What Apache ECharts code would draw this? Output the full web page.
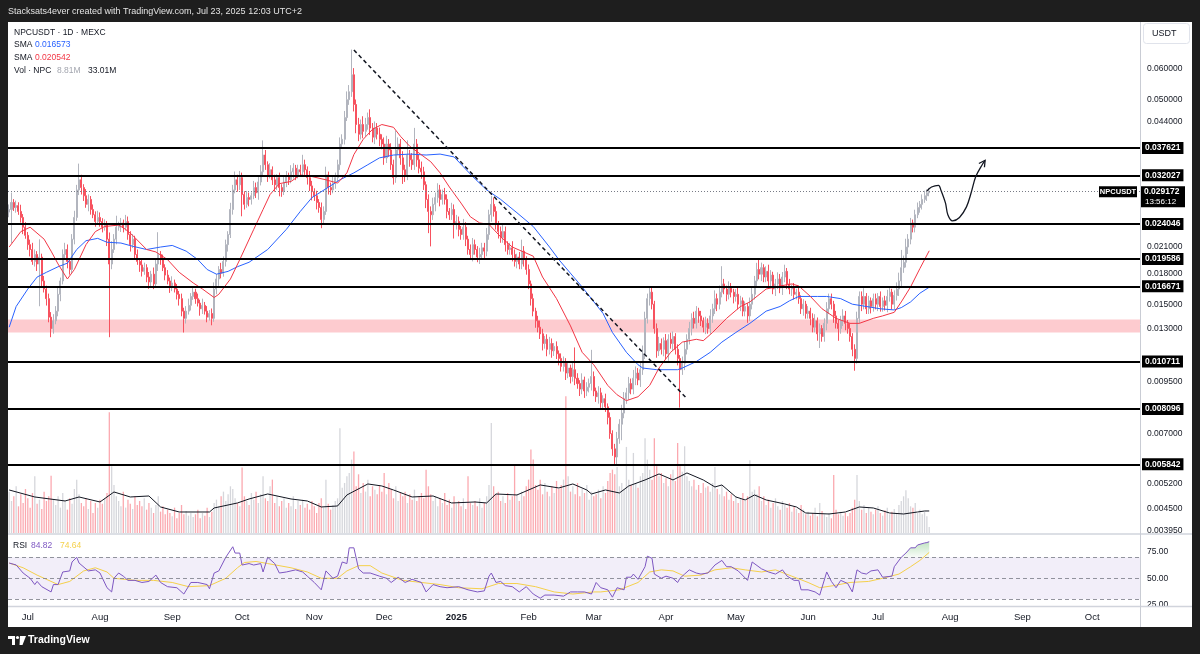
<!DOCTYPE html>
<html>
<head>
<meta charset="utf-8">
<script src="https://cdn.jsdelivr.net/npm/echarts@6/dist/echarts.min.js"></script>
<style>
  html, body { margin: 0; padding: 0; background: #1e1e1e; }
  #chart { width: 1200px; height: 654px; }
</style>
</head>
<body>
<div id="chart"></div>
<script>
(() => {
  // daily candles, first one on Jun 23 2024; axis runs on into Oct 2025
  var startDate = '2024-06-23';
  var dayCount = 486;
  var monthNames = ['Jan', 'Feb', 'Mar', 'Apr', 'May', 'Jun', 'Jul', 'Aug', 'Sep', 'Oct', 'Nov', 'Dec'];

  var firstOpen = 0.0258;
  var closes = [
    0.0262,0.0273,0.0265,0.0268,0.0259,0.0250,0.0236,0.0225,0.0213,0.0207,0.0193,0.0201,0.0190,0.0198,0.0172,0.0164,0.0155,0.0139,0.0130,0.0136,
    0.0144,0.0159,0.0172,0.0201,0.0207,0.0193,0.0184,0.0220,0.0250,0.0294,0.0312,0.0298,0.0284,0.0270,0.0278,0.0262,0.0254,0.0244,0.0250,0.0244,
    0.0236,0.0240,0.0220,0.0190,0.0207,0.0220,0.0236,0.0239,0.0242,0.0236,0.0244,0.0226,0.0213,0.0220,0.0201,0.0193,0.0189,0.0182,0.0186,0.0176,
    0.0171,0.0179,0.0169,0.0190,0.0201,0.0195,0.0186,0.0178,0.0172,0.0167,0.0170,0.0164,0.0159,0.0155,0.0144,0.0138,0.0144,0.0149,0.0157,0.0161,
    0.0155,0.0151,0.0146,0.0149,0.0144,0.0139,0.0142,0.0138,0.0164,0.0174,0.0184,0.0180,0.0193,0.0213,0.0226,0.0262,0.0294,0.0312,0.0303,0.0316,
    0.0286,0.0270,0.0281,0.0278,0.0284,0.0298,0.0289,0.0308,0.0327,0.0361,0.0341,0.0321,0.0331,0.0312,0.0303,0.0316,0.0298,0.0291,0.0308,0.0319,
    0.0312,0.0327,0.0334,0.0321,0.0331,0.0327,0.0341,0.0331,0.0316,0.0301,0.0291,0.0284,0.0273,0.0265,0.0247,0.0259,0.0321,0.0298,0.0294,0.0305,
    0.0316,0.0341,0.0385,0.0396,0.0450,0.0500,0.0524,0.0579,0.0486,0.0432,0.0408,0.0432,0.0415,0.0432,0.0450,0.0423,0.0401,0.0423,0.0408,0.0396,
    0.0385,0.0355,0.0385,0.0372,0.0341,0.0316,0.0372,0.0385,0.0355,0.0331,0.0321,0.0361,0.0351,0.0341,0.0385,0.0351,0.0334,0.0327,0.0303,0.0278,
    0.0259,0.0254,0.0270,0.0281,0.0294,0.0278,0.0286,0.0278,0.0259,0.0254,0.0262,0.0240,0.0244,0.0233,0.0226,0.0236,0.0220,0.0207,0.0201,0.0213,
    0.0207,0.0198,0.0201,0.0209,0.0205,0.0226,0.0254,0.0270,0.0259,0.0240,0.0230,0.0222,0.0230,0.0213,0.0207,0.0209,0.0201,0.0193,0.0198,0.0190,
    0.0205,0.0195,0.0184,0.0169,0.0155,0.0144,0.0136,0.0131,0.0126,0.0119,0.0122,0.0115,0.0119,0.0114,0.0117,0.0112,0.0109,0.0104,0.0106,0.0100,
    0.0103,0.0098,0.0102,0.0097,0.0094,0.0091,0.0096,0.0090,0.0092,0.0094,0.0098,0.0090,0.0087,0.0089,0.0084,0.0086,0.0082,0.0077,0.0070,0.0064,
    0.0061,0.0068,0.0074,0.0079,0.0086,0.0089,0.0094,0.0091,0.0097,0.0100,0.0096,0.0102,0.0112,0.0138,0.0155,0.0161,0.0150,0.0130,0.0114,0.0119,
    0.0115,0.0121,0.0112,0.0122,0.0119,0.0124,0.0115,0.0109,0.0102,0.0106,0.0115,0.0122,0.0130,0.0138,0.0134,0.0144,0.0140,0.0136,0.0131,0.0134,
    0.0130,0.0140,0.0146,0.0155,0.0150,0.0161,0.0169,0.0164,0.0159,0.0165,0.0161,0.0157,0.0159,0.0150,0.0153,0.0144,0.0148,0.0140,0.0150,0.0159,
    0.0172,0.0184,0.0179,0.0186,0.0176,0.0182,0.0172,0.0178,0.0164,0.0169,0.0174,0.0165,0.0176,0.0182,0.0169,0.0164,0.0165,0.0159,0.0161,0.0155,
    0.0146,0.0150,0.0142,0.0144,0.0138,0.0131,0.0136,0.0126,0.0130,0.0124,0.0134,0.0146,0.0155,0.0150,0.0140,0.0134,0.0130,0.0136,0.0140,0.0134,
    0.0130,0.0124,0.0115,0.0109,0.0138,0.0157,0.0150,0.0157,0.0146,0.0153,0.0148,0.0155,0.0150,0.0157,0.0148,0.0153,0.0149,0.0157,0.0161,0.0150,
    0.0158,0.0164,0.0172,0.0186,0.0192,0.0210,0.0220,0.0242,0.0236,0.0254,0.0265,0.0270,0.0278,0.0284,0.0289,0.029172
  ];
  // wick lengths, % beyond the body (upper / lower)
  var hiWick = [
    3,6,2,3,2,4,2,3,2,3,4,3,2,11,2,3,2,3,3,4, 3,4,2,3,4,3,2,3,4,3,10,3,2,4,3,2,3,2,4,3,
    2,3,2,4,5,3,7,2,3,2,4,3,2,3,2,3,2,4,3,2, 3,2,4,3,14,2,3,2,3,2,4,2,3,2,3,2,3,4,2,3,
    2,3,2,4,2,3,2,3,4,3,2,4,3,3,2,4,3,5,3,4, 3,2,4,3,2,4,3,3,4,9,3,2,4,2,3,2,3,2,4,3,
    2,4,3,2,3,3,6,3,2,4,3,2,3,2,3,3,5,2,3,4, 3,3,4,3,4,5,4,16,4,3,4,3,5,4,3,5,3,4,3,4,
    3,4,5,3,4,3,12,4,3,4,3,9,3,4,10,3,3,4,3,2, 3,3,4,3,4,3,3,4,3,2,4,3,4,3,2,5,3,2,3,4,
    3,2,4,3,3,4,3,5,4,3,2,3,4,3,2,3,4,3,2,3, 7,3,2,3,2,3,2,3,4,3,2,3,4,3,2,3,2,3,4,3,
    3,2,4,14,3,2,4,2,3,3,17,3,2,4,3,2,3,2,3,2, 3,4,3,5,4,3,4,3,5,4,3,4,5,4,3,3,3,2,3,4,
    3,2,4,3,4,3,2,3,2,4,5,3,4,3,4,3,2,3,2,4, 3,4,3,5,3,4,11,3,2,4,3,2,3,4,3,2,3,2,4,5,
    3,4,7,3,2,3,4,3,2,3,4,3,3,4,2,3,2,3,2,3, 2,3,2,3,2,3,4,2,3,2,3,4,3,3,2,3,2,3,4,3,
    2,3,2,3,4,3,3,5,2,3,2,3,3,2,3,2,3,4,3,2, 3,4,5,11,4,5,3,3,2,3,3,2,3,3,2,2
  ];
  var loWick = [
    3,18,2,3,2,3,4,2,3,4,2,3,4,22,3,2,4,3,5,3, 2,3,4,2,3,4,3,2,3,2,3,4,3,2,4,3,2,3,2,3,
    3,2,4,35,3,2,3,2,4,3,2,3,4,2,3,2,4,3,2,3, 4,3,3,2,4,3,2,3,2,4,3,2,3,4,3,8,3,2,3,2,
    3,2,4,3,2,3,2,4,2,3,4,3,2,3,4,2,3,2,4,3, 12,3,2,4,3,2,3,4,2,3,3,4,2,3,4,3,5,3,2,3,
    3,2,4,3,2,3,2,3,4,3,5,3,4,3,5,3,2,4,3,2, 3,2,3,2,3,2,3,3,4,5,4,3,4,3,3,4,3,4,3,4,
    3,4,3,4,3,4,3,3,4,8,4,3,4,3,3,4,3,4,3,5, 12,17,3,4,3,4,3,3,4,3,3,8,3,4,3,3,4,3,3,4,
    3,3,4,3,4,3,3,4,3,3,4,3,3,4,3,3,4,3,4,3, 3,4,3,3,4,3,4,3,3,4,3,4,3,4,3,3,4,3,3,4,
    3,4,3,4,3,4,3,4,3,3,4,3,3,4,3,4,3,4,3,4, 4,5,3,9,3,3,4,3,3,4,3,4,3,3,3,4,3,3,4,3,
    3,4,3,4,3,4,3,4,20,3,4,3,3,4,3,3,4,3,3,4, 3,3,4,3,4,3,3,3,4,3,3,4,3,3,4,3,3,4,3,3,
    3,3,3,4,3,3,4,3,3,4,3,3,4,3,3,3,4,3,3,3, 3,4,3,3,4,3,3,4,8,3,3,4,3,3,4,3,7,3,3,4,
    3,3,4,7,3,3,4,3,3,3,4,3,3,4,3,3,3,4,3,3, 3,3,4,3,3,3,4,3,3,3,2,3,3,2,3,2
  ];
  // volume, millions of NPC
  var volumes = [
    62,48,55,70,40,58,45,66,52,38,60,85,44,50,36,62,48,55,86,50, 42,55,38,60,48,35,52,44,66,80,58,45,40,52,36,48,30,45,38,50,
    44,52,60,181,100,72,55,48,40,62,38,50,44,36,55,42,48,40,52,35, 45,38,30,42,55,32,40,28,35,30,25,38,22,30,42,28,33,26,30,24,
    28,35,22,30,26,38,24,32,45,50,40,55,62,48,58,70,66,52,45,40, 98,55,48,42,60,50,62,45,58,85,52,48,70,80,45,55,40,48,52,38,
    45,40,55,36,48,42,50,38,44,35,48,40,30,45,52,38,80,44,35,42, 48,52,157,68,75,85,90,110,122,70,88,60,75,62,80,55,70,65,58,72,
    62,90,58,75,66,52,70,48,60,55,62,45,58,50,65,48,55,60,52,95, 70,58,48,55,40,52,45,60,42,50,38,55,44,48,40,52,36,85,45,42,
    48,40,52,38,45,55,72,165,70,58,62,48,55,45,60,50,55,102,58,48, 62,55,70,80,125,110,72,65,80,58,75,62,55,70,60,78,66,72,80,205,
    85,62,70,58,75,55,66,60,72,50,62,55,58,65,52,70,60,78,90,95, 88,99,70,75,66,129,80,72,120,75,68,85,90,142,110,95,80,142,100,85,
    90,75,82,70,88,95,78,135,100,92,130,85,78,70,80,65,72,60,75,68, 70,62,75,99,66,58,72,55,62,50,58,48,55,45,52,60,48,55,109,62,
    65,58,70,48,55,42,50,38,45,52,40,35,48,42,38,45,32,40,36,30, 42,35,28,32,26,30,38,25,45,33,28,24,30,22,87,35,28,32,26,30,
    25,30,38,50,87,48,35,42,30,38,32,28,35,40,30,26,34,38,28,32, 36,30,42,48,55,64,52,40,38,45,30,35,28,32,25,8.81
  ];
  // [day index, value] readings of the indicator lines
  var volMa = [[0,64.5],[11,54],[24,48],[30,54],[39,46.5],[45,61.5],[52,54],[60,55.5],[65,39],[73,31.5],[86,31.5],[88,37.5],[98,45],[103,51],[111,58.5],[121,51],[128,48],[134,39],[141,40.5],[145,57],[154,73.5],[160,70.5],[165,64.5],[173,54],[182,55.5],[190,45],[200,46.5],[205,45],[209,58.5],[218,57],[228,72],[236,67.5],[242,73.5],[248,64.5],[250,58.5],[256,64.5],[262,60],[266,70.5],[273,79.5],[279,88.5],[285,79.5],[291,90],[298,79.5],[303,69],[306,72],[312,54],[316,49.5],[320,57],[325,49.5],[333,43.5],[338,39],[342,30],[352,28.5],[359,31.5],[365,39],[371,37.5],[378,30],[384,28.5],[390,31.5],[393,33],[395,33.01]];
  var smaSlow = [[0,0.0131],[3,0.0148],[8,0.0164],[12,0.0176],[16,0.0181],[21,0.0187],[25,0.0191],[29,0.0207],[33,0.0218],[38,0.0221],[42,0.0216],[48,0.0215],[53,0.0211],[59,0.0207],[65,0.0210],[70,0.0212],[76,0.0205],[81,0.0195],[85,0.0184],[89,0.0179],[94,0.0182],[98,0.0187],[103,0.0192],[111,0.0207],[119,0.0233],[125,0.0259],[130,0.0281],[136,0.0296],[142,0.0312],[148,0.0325],[154,0.0341],[159,0.0355],[165,0.0361],[172,0.0363],[179,0.0361],[185,0.0363],[191,0.0357],[195,0.0337],[199,0.0318],[205,0.0294],[211,0.0278],[218,0.0257],[225,0.0237],[232,0.0210],[236,0.0195],[246,0.0166],[255,0.0142],[259,0.0127],[265,0.0113],[270,0.0105],[272,0.0103],[278,0.0102],[287,0.0102],[289,0.0103],[295,0.0107],[301,0.0113],[306,0.0120],[312,0.0127],[318,0.0134],[325,0.0144],[331,0.0148],[335,0.0153],[339,0.0157],[347,0.0157],[351,0.0157],[357,0.0155],[362,0.0150],[368,0.0148],[374,0.0146],[380,0.0145],[383,0.0147],[387,0.0152],[391,0.0160],[395,0.016573]];
  var smaFast = [[0,0.0210],[5,0.0230],[9,0.0236],[15,0.0220],[18,0.0205],[21,0.0190],[25,0.0174],[28,0.0184],[33,0.0213],[37,0.0230],[41,0.0237],[47,0.0239],[50,0.0233],[53,0.0225],[59,0.0207],[63,0.0204],[68,0.0195],[73,0.0181],[79,0.0170],[83,0.0164],[88,0.0156],[90,0.0159],[95,0.0174],[99,0.0195],[105,0.0233],[109,0.0262],[112,0.0286],[116,0.0305],[121,0.0309],[125,0.0321],[130,0.0318],[136,0.0312],[141,0.0306],[145,0.0325],[148,0.0362],[152,0.0396],[156,0.0420],[160,0.0432],[165,0.0425],[168,0.0403],[172,0.0380],[176,0.0365],[181,0.0347],[185,0.0325],[189,0.0299],[194,0.0272],[198,0.0251],[202,0.0242],[206,0.0240],[211,0.0223],[216,0.0210],[225,0.0199],[229,0.0176],[235,0.0155],[241,0.0132],[246,0.0113],[251,0.0105],[257,0.0093],[261,0.0088],[265,0.0085],[270,0.0087],[275,0.0093],[279,0.0103],[284,0.0113],[289,0.0120],[295,0.0122],[298,0.0121],[302,0.0127],[308,0.0138],[314,0.0148],[318,0.0152],[325,0.0164],[331,0.0167],[336,0.0169],[339,0.0167],[344,0.0157],[349,0.0146],[355,0.0138],[361,0.0134],[365,0.0134],[371,0.0138],[375,0.0140],[380,0.0143],[383,0.0152],[387,0.0166],[391,0.0185],[395,0.020542]];
  var rsi = [[0,64.5],[3,62.7],[6,55],[9,50],[11,44],[12,47],[14,42],[18,37],[19,44],[21,44],[23,56],[26,57],[27,65.5],[29,70],[30,64.5],[34,57],[37,58],[39,55],[42,41],[44,37],[45,50],[47,55],[49,52],[51,48],[54,48],[57,46],[60,47],[63,53],[65,46],[68,42],[72,41],[75,35],[78,46],[81,46],[85,44],[86,40],[88,55],[90,57],[93,70],[96,80],[97,74],[99,74],[100,62.6],[103,64],[105,62.6],[108,64],[109,56],[111,70],[114,64],[116,55],[119,56],[123,58],[126,56],[128,52],[131,46],[134,39],[136,57],[139,50],[141,52],[143,65.5],[145,64],[146,79],[148,79],[150,59],[152,55],[155,55],[159,52],[162,50],[164,46],[167,51],[170,46],[173,49],[177,46],[179,37],[182,44],[185,42],[188,41],[193,42],[197,39],[201,37],[204,38],[206,52],[207,55],[209,46],[211,47],[213,43],[216,42],[219,37],[222,42],[225,35],[228,31],[230,34],[234,34],[238,33],[241,37],[244,37],[247,37],[250,35],[252,46],[254,41],[257,39],[259,32],[261,41],[264,39],[265,51],[267,51],[268,54],[270,49],[273,61],[274,71],[276,69],[277,54],[280,50],[282,52],[285,50],[287,46],[288,50],[290,54],[292,58],[295,55],[297,54],[300,55],[303,62.6],[306,67],[308,61],[310,61],[313,57],[317,48],[319,65.5],[323,59],[326,56],[329,54],[332,58],[334,52],[337,48],[339,48],[340,39],[343,39],[346,37],[348,34],[351,56],[353,47],[355,41],[357,48],[360,45],[362,37],[364,58],[366,55],[368,54],[370,57],[373,58],[375,51],[379,52],[380,61],[383,70],[385,74],[387,79],[389,79],[390,81.7],[393,83.6],[394,84],[395,84.82]];
  var rsiMa = [[0,64.5],[6,60],[12,53],[21,44],[26,47],[32,57],[37,60],[42,56],[45,50],[54,48],[62,48],[70,46],[77,42],[86,43],[93,50],[98,60],[101,65],[106,66],[111,64],[121,60],[128,56],[134,50],[141,50],[145,57],[150,62],[155,62],[160,55],[169,48],[177,46],[185,44],[193,41],[203,40],[210,45],[218,45],[226,42],[234,37],[242,35],[251,37],[254,37],[262,39],[270,46],[275,56],[280,58],[285,57],[290,52],[297,53],[303,58],[310,60],[316,58],[323,56],[329,58],[336,52],[343,46],[348,41],[354,43],[361,46],[369,47],[375,50],[382,54],[387,61],[391,67],[395,74.64]];

  var levels = [0.037621, 0.032027, 0.024046, 0.019586, 0.016671, 0.010711, 0.008096, 0.005842];
  var priceTicks = [0.06, 0.05, 0.044, 0.021, 0.018, 0.015, 0.013, 0.0095, 0.007, 0.0052, 0.0045, 0.00395];
  var rsiTicks = [75, 50, 25];
  var rsiBands = [70, 50, 30];
  var zoneBand = [0.0127, 0.0137];
  var lastPrice = 0.029172;
  var trendLine = [[148, 0.0670], [291, 0.0086]];
  var arrowPath = [[394,0.0292],[396,0.0299],[399,0.0302],[400,0.0294],[402,0.0272],[403,0.0254],[405,0.0245],[408,0.0250],[411,0.0266],[413,0.0289],[415,0.0318],[418,0.0343],[419,0.0350]];

  var FONT = 'Liberation Sans';
  var INK = '#131722';
  var UP = '#b2b5be', DOWN = '#f7525f';

  var t0 = Date.parse(startDate);
  var dates = [];
  for (var k = 0; k < dayCount; k++) dates.push(new Date(t0 + k * 86400000).toISOString().slice(0, 10));

  var candles = [], volBars = [];
  closes.forEach(function (c, i) {
    var o = i ? closes[i - 1] : firstOpen;
    var top = Math.max(o, c), bot = Math.min(o, c);
    candles.push([o, c, bot * (1 - loWick[i] / 100), top * (1 + hiWick[i] / 100)]);
    volBars.push({ value: volumes[i], itemStyle: { color: c >= o ? 'rgba(178,181,190,0.55)' : 'rgba(247,82,95,0.5)' } });
  });

  function axisText(v, txt) {
    return { yAxis: v, lineStyle: { color: 'rgba(0,0,0,0)', width: 1 },
      label: { show: true, position: 'end', distance: 7, formatter: txt, color: INK, fontSize: 8.5, fontFamily: FONT } };
  }
  function monthLabel(v) {
    var m = +v.slice(5, 7);
    return m === 1 ? '{y|' + v.slice(0, 4) + '}' : monthNames[m - 1];
  }

  var xBase = { type: 'category', data: dates, boundaryGap: true, axisLine: { show: false }, axisTick: { show: false }, axisLabel: { show: false }, splitLine: { show: false } };

  var option = {
    animation: false,
    backgroundColor: '#1e1e1e',
    grid: [
      { left: 8, width: 1132, top: 22, height: 511 },
      { left: 8, width: 1132, top: 22, height: 511 },
      { left: 8, width: 1132, top: 535, height: 71 }
    ],
    xAxis: [
      Object.assign({}, xBase, { gridIndex: 0 }),
      Object.assign({}, xBase, { gridIndex: 1 }),
      Object.assign({}, xBase, { gridIndex: 2, axisLabel: {
        show: true, interval: function (i, v) { return v.slice(8) === '01'; }, formatter: monthLabel,
        color: INK, fontSize: 9.5, fontFamily: FONT, margin: 6,
        rich: { y: { fontWeight: 'bold', fontSize: 9.5, fontFamily: FONT, color: INK } } } })
    ],
    yAxis: [
      { type: 'log', gridIndex: 0, min: 0.0039, max: 0.079, position: 'right', show: false },
      { type: 'value', gridIndex: 1, min: 0, max: 766, show: false },
      { type: 'value', gridIndex: 2, min: 23.6, max: 91.2, show: false }
    ],
    series: [
      { type: 'bar', xAxisIndex: 1, yAxisIndex: 1, data: volBars, barWidth: '55%', silent: true, z: 1 },
      { type: 'line', xAxisIndex: 1, yAxisIndex: 1, data: volMa, showSymbol: false, silent: true, z: 2,
        lineStyle: { color: INK, width: 1 } },
      // zone band behind the candles
      { type: 'line', xAxisIndex: 0, yAxisIndex: 0, data: [], silent: true, z: 1,
        markArea: { silent: true, itemStyle: { color: 'rgba(247,82,95,0.3)' }, data: [[{ yAxis: zoneBand[0] }, { yAxis: zoneBand[1] }]] } },
      { type: 'candlestick', xAxisIndex: 0, yAxisIndex: 0, data: candles, barWidth: '65%', silent: true, z: 3,
        itemStyle: { color: UP, color0: DOWN, borderColor: UP, borderColor0: DOWN, borderWidth: 1 },
        markLine: { silent: true, precision: 8, symbol: ['none', 'none'], data: levels.map(function (v) {
          return { yAxis: v, lineStyle: { color: '#000', width: 2, type: 'solid' },
            label: { show: true, position: 'end', distance: 2, formatter: v.toFixed(6), color: '#fff', backgroundColor: '#000',
              padding: [2, 3, 1, 3], fontSize: 8.5, fontWeight: 'bold', fontFamily: FONT } };
        }).concat([{ yAxis: lastPrice, lineStyle: { color: '#787b86', width: 1, type: [1, 2] }, label: { show: false } }]) } },
      // slow SMA also carries the price-scale labels
      { type: 'line', xAxisIndex: 0, yAxisIndex: 0, data: smaSlow, showSymbol: false, silent: true, z: 4,
        lineStyle: { color: '#2962ff', width: 1 },
        markLine: { silent: true, precision: 8, symbol: ['none', 'none'], data: priceTicks.map(function (v) { return axisText(v, v.toFixed(6)); }) } },
      { type: 'line', xAxisIndex: 0, yAxisIndex: 0, data: smaFast, showSymbol: false, silent: true, z: 4,
        lineStyle: { color: '#f23645', width: 1 } },
      { type: 'line', xAxisIndex: 0, yAxisIndex: 0, data: trendLine, showSymbol: false, silent: true, z: 5,
        lineStyle: { color: INK, width: 1.5, type: [4, 3] } },
      { type: 'line', xAxisIndex: 0, yAxisIndex: 0, data: arrowPath, showSymbol: false, silent: true, smooth: 0.35, z: 5,
        lineStyle: { color: INK, width: 1.3 } },
      // RSI pane
      { type: 'line', xAxisIndex: 2, yAxisIndex: 2, data: [], silent: true, z: 1,
        markArea: { silent: true, itemStyle: { color: 'rgba(126,87,194,0.1)' }, data: [[{ yAxis: 30 }, { yAxis: 70 }]] } },
      { type: 'line', xAxisIndex: 2, yAxisIndex: 2, data: rsi.filter(function (p) { return p[0] >= 383; }), showSymbol: false, silent: true, z: 2,
        lineStyle: { width: 0 },
        areaStyle: { origin: 70, color: new echarts.graphic.LinearGradient(0, 0, 0, 1, [
          { offset: 0, color: 'rgba(76,175,80,0.5)' }, { offset: 1, color: 'rgba(76,175,80,0.05)' }]) } },
      { type: 'line', xAxisIndex: 2, yAxisIndex: 2, data: rsiMa, showSymbol: false, silent: true, z: 3,
        lineStyle: { color: '#f5d04a', width: 1 },
        markLine: { silent: true, precision: 4, symbol: ['none', 'none'], data: rsiBands.map(function (v) {
          return { yAxis: v, lineStyle: { color: '#787b86', width: 1, type: [4, 3], opacity: 0.8 }, label: { show: false } };
        }).concat(rsiTicks.map(function (v) { return axisText(v, v.toFixed(2)); })) } },
      { type: 'line', xAxisIndex: 2, yAxisIndex: 2, data: rsi, showSymbol: false, silent: true, z: 4,
        lineStyle: { color: '#7e57c2', width: 1 } }
    ]
  };

  var chart = echarts.init(document.getElementById('chart'));
  chart.setOption(option);

  function txt(x, y, text, color, size, weight, align) {
    return { type: 'text', x: x, y: y, z: 100, silent: true,
      style: { text: text, fill: color, font: (weight || 'normal') + ' ' + size + 'px "' + FONT + '"', align: align || 'left', verticalAlign: 'middle' } };
  }
  function hline(y, x1, x2, color, w) {
    return { type: 'line', z: 60, silent: true, shape: { x1: x1, y1: y, x2: x2, y2: y }, style: { stroke: color, lineWidth: w } };
  }

  var py = chart.convertToPixel({ yAxisIndex: 0 }, lastPrice);
  var tip = [chart.convertToPixel({ xAxisIndex: 0 }, arrowPath[arrowPath.length - 1][0]), chart.convertToPixel({ yAxisIndex: 0 }, arrowPath[arrowPath.length - 1][1])];
  var prev = [chart.convertToPixel({ xAxisIndex: 0 }, arrowPath[arrowPath.length - 2][0]), chart.convertToPixel({ yAxisIndex: 0 }, arrowPath[arrowPath.length - 2][1])];
  var ang = Math.atan2(prev[1] - tip[1], prev[0] - tip[0]);
  var arm = function (d) { return [tip[0] + 7 * Math.cos(ang + d), tip[1] + 7 * Math.sin(ang + d)]; };

  var graphics = [
    { type: 'rect', z: -10, silent: true, shape: { x: 8, y: 22, width: 1184, height: 605 }, style: { fill: '#ffffff' } },
    txt(8, 11.5, 'Stacksats4ever created with TradingView.com, Jul 23, 2025 12:03 UTC+2', '#e3e3e3', 9),
    txt(14, 32.5, 'NPCUSDT · 1D · MEXC', INK, 8.5),
    txt(14, 45, 'SMA', INK, 8.5), txt(35, 45, '0.016573', '#2962ff', 8.5),
    txt(14, 58, 'SMA', INK, 8.5), txt(35, 58, '0.020542', '#f23645', 8.5),
    txt(14, 71, 'Vol · NPC', INK, 8.5), txt(57, 71, '8.81M', '#a3a6af', 8.5), txt(88, 71, '33.01M', INK, 8.5),
    txt(13, 546, 'RSI', INK, 8.5), txt(31, 546, '84.82', '#7e57c2', 8.5), txt(60, 546, '74.64', '#f5d04a', 8.5),
    // panes and price scale frame
    hline(534, 8, 1192, '#d1d4dc', 1.5),
    hline(606.5, 8, 1192, '#d1d4dc', 1.5),
    { type: 'line', z: 60, silent: true, shape: { x1: 1140.5, y1: 22, x2: 1140.5, y2: 627 }, style: { stroke: '#c9ccd4', lineWidth: 1 } },
    { type: 'rect', z: 70, silent: true, shape: { x: 1143.5, y: 23.5, width: 46, height: 20, r: 3 }, style: { fill: '#fff', stroke: '#e0e3eb', lineWidth: 1 } },
    txt(1152, 34, 'USDT', INK, 9),
    // last price tags
    { type: 'rect', z: 90, silent: true, shape: { x: 1141, y: py - 5, width: 44, height: 21 }, style: { fill: '#000' } },
    txt(1144, py + 0.5, '0.029172', '#fff', 8.5, 'bold'),
    txt(1145, py + 11, '13:56:12', '#fff', 8),
    { type: 'rect', z: 90, silent: true, shape: { x: 1099, y: py - 5, width: 38, height: 11 }, style: { fill: '#000' } },
    txt(1118, py + 0.5, 'NPCUSDT', '#fff', 7.5, 'bold', 'center'),
    // projection arrow head
    { type: 'polyline', z: 20, silent: true, shape: { points: [arm(0.5), tip, arm(-0.5)] }, style: { stroke: INK, lineWidth: 1.3, fill: null } },
    // footer logo
    { type: 'rect', z: 100, silent: true, shape: { x: 8, y: 636, width: 7, height: 3 }, style: { fill: '#fff' } },
    { type: 'rect', z: 100, silent: true, shape: { x: 12, y: 636, width: 3, height: 9 }, style: { fill: '#fff' } },
    { type: 'circle', z: 100, silent: true, shape: { cx: 17.5, cy: 637.5, r: 1.6 }, style: { fill: '#fff' } },
    { type: 'polygon', z: 100, silent: true, shape: { points: [[20, 636], [26, 636], [22.5, 645], [19.5, 645]] }, style: { fill: '#fff' } },
    txt(28, 640.5, 'TradingView', '#ffffff', 10.5, 'bold')
  ];
  chart.setOption({ graphic: graphics });
})();
</script>
</body>
</html>
